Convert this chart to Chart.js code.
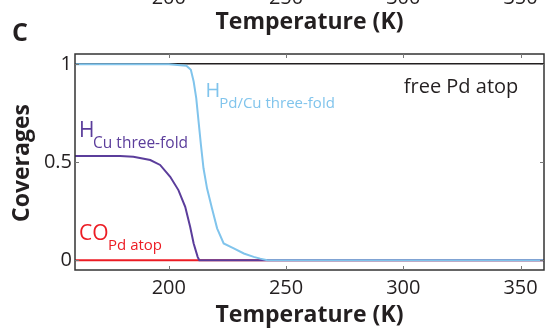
<!DOCTYPE html>
<html>
<head>
<meta charset="utf-8">
<script src="https://cdn.jsdelivr.net/npm/chart.js@4"></script>
<style>
  html, body { margin: 0; padding: 0; background: #fff; }
  #wrap { width: 545px; height: 331px; position: relative; }
</style>
</head>
<body>
<div id="wrap"><canvas id="cov" width="545" height="331"></canvas></div>
<script>
// data
const tempPdCu = [160, 200, 207.5, 209.4, 210.6, 211.7, 212.7, 213.7, 214.8, 216.3, 218.4, 220.6, 223.4, 227.7, 232, 236.2, 239, 242, 360];
const covPdCu = [0.998, 0.998, 0.99, 0.97, 0.91, 0.825, 0.706, 0.587, 0.468, 0.366, 0.264, 0.162, 0.085, 0.06, 0.034, 0.017, 0.008, 0, 0];

const tempCu = [160, 179.2, 184.9, 192.1, 196.3, 200.6, 204.1, 207, 209.1, 210.6, 212.3, 213, 360];
const covCu = [0.53, 0.53, 0.527, 0.51, 0.485, 0.425, 0.357, 0.272, 0.17, 0.085, 0.017, 0, 0];

const tempFree = [160, 360];
const covFree = [1, 1];

const tempCO = [160, 360];
const covCO = [0, 0];

const xTicks = [200, 250, 300, 350];
const yTicks = [0, 0.5, 1];

const pts = (xs, ys) => xs.map((x, i) => ({ x: x, y: ys[i] }));

const ink = "#231f20";
const blue = "#80c4ec";
const purple = "#5b3d9b";
const red = "#ec1c24";
const fam = "'Open Sans', sans-serif";

const extras = {
  id: "extras",
  afterDraw(chart) {
    const ctx = chart.ctx;
    const a = chart.chartArea;
    const xs = chart.scales.x;
    const ys = chart.scales.y;
    ctx.save();

    // frame
    ctx.strokeStyle = "#333";
    ctx.lineWidth = 1.5;
    ctx.strokeRect(a.left, a.top, a.right - a.left, a.bottom - a.top);

    // inward ticks
    ctx.strokeStyle = "#777";
    ctx.lineWidth = 1;
    xTicks.forEach(t => {
      const px = Math.round(xs.getPixelForValue(t)) + 0.5;
      ctx.beginPath();
      ctx.moveTo(px, a.bottom); ctx.lineTo(px, a.bottom - 4);
      ctx.moveTo(px, a.top); ctx.lineTo(px, a.top + 4);
      ctx.stroke();
    });
    yTicks.forEach(t => {
      const py = Math.round(ys.getPixelForValue(t)) + 0.5;
      ctx.beginPath();
      ctx.moveTo(a.left, py); ctx.lineTo(a.left + 4, py);
      ctx.moveTo(a.right, py); ctx.lineTo(a.right - 4, py);
      ctx.stroke();
    });

    // remnants of panel above
    ctx.fillStyle = ink;
    ctx.textAlign = "center";
    ctx.textBaseline = "alphabetic";
    ctx.font = "20px " + fam;
    xTicks.forEach(t => ctx.fillText(String(t), xs.getPixelForValue(t), 4));
    ctx.font = "bold 23px " + fam;
    ctx.fillText("Temperature (K)", (a.left + a.right) / 2, 29);

    // panel letter
    ctx.textAlign = "left";
    ctx.font = "bold 25px " + fam;
    ctx.fillText("C", 12, 41);

    // axis titles
    ctx.textAlign = "center";
    ctx.font = "bold 23px " + fam;
    ctx.fillText("Temperature (K)", (a.left + a.right) / 2, 322);
    ctx.save();
    ctx.translate(29, 163);
    ctx.rotate(-Math.PI / 2);
    ctx.fillText("Coverages", 0, 0);
    ctx.restore();

    // curve labels
    const label = (txt, t, v, size, color) => {
      ctx.font = size + "px " + fam;
      ctx.fillStyle = color;
      ctx.textAlign = "left";
      ctx.fillText(txt, xs.getPixelForValue(t), ys.getPixelForValue(v));
    };
    label("H", 215.6, 0.832, 20, blue);
    label("Pd/Cu three-fold", 221.5, 0.776, 15, blue);
    label("H", 161.7, 0.629, 21, purple);
    label("Cu three-fold", 167.7, 0.571, 15.5, purple);
    label("CO", 161.7, 0.102, 21, red);
    label("Pd atop", 174.1, 0.051, 15, red);
    label("free Pd atop", 300.2, 0.852, 20, ink);

    ctx.restore();
  }
};

new Chart(document.getElementById("cov"), {
  type: "line",
  data: {
    datasets: [
      { data: pts(tempPdCu, covPdCu), borderColor: blue, borderWidth: 2 },
      { data: pts(tempCu, covCu), borderColor: purple, borderWidth: 2 },
      { data: pts(tempFree, covFree), borderColor: ink, borderWidth: 1.5 },
      { data: pts(tempCO, covCO), borderColor: red, borderWidth: 2 },
    ],
  },
  options: {
    responsive: false,
    animation: false,
    devicePixelRatio: 1,
    layout: { padding: { top: 54, right: 1, left: 0, bottom: 0 } },
    elements: { point: { radius: 0 }, line: { tension: 0 } },
    scales: {
      x: {
        type: "linear",
        min: 160,
        max: 360,
        afterBuildTicks: s => { s.ticks = xTicks.map(v => ({ value: v })); },
        afterFit: s => { s.height = 61; },
        grid: { display: false, drawTicks: false },
        border: { display: false },
        ticks: { color: ink, font: { family: fam, size: 20 }, padding: 6, maxRotation: 0 },
      },
      y: {
        type: "linear",
        min: -0.05,
        max: 1.05,
        afterBuildTicks: s => { s.ticks = yTicks.map(v => ({ value: v })); },
        afterFit: s => { s.width = 75; },
        grid: { display: false, drawTicks: false },
        border: { display: false },
        ticks: { color: ink, font: { family: fam, size: 20 }, padding: 3, callback: v => String(v) },
      },
    },
    plugins: { legend: { display: false }, tooltip: { enabled: false } },
  },
  plugins: [extras],
});
</script>
</body>
</html>
